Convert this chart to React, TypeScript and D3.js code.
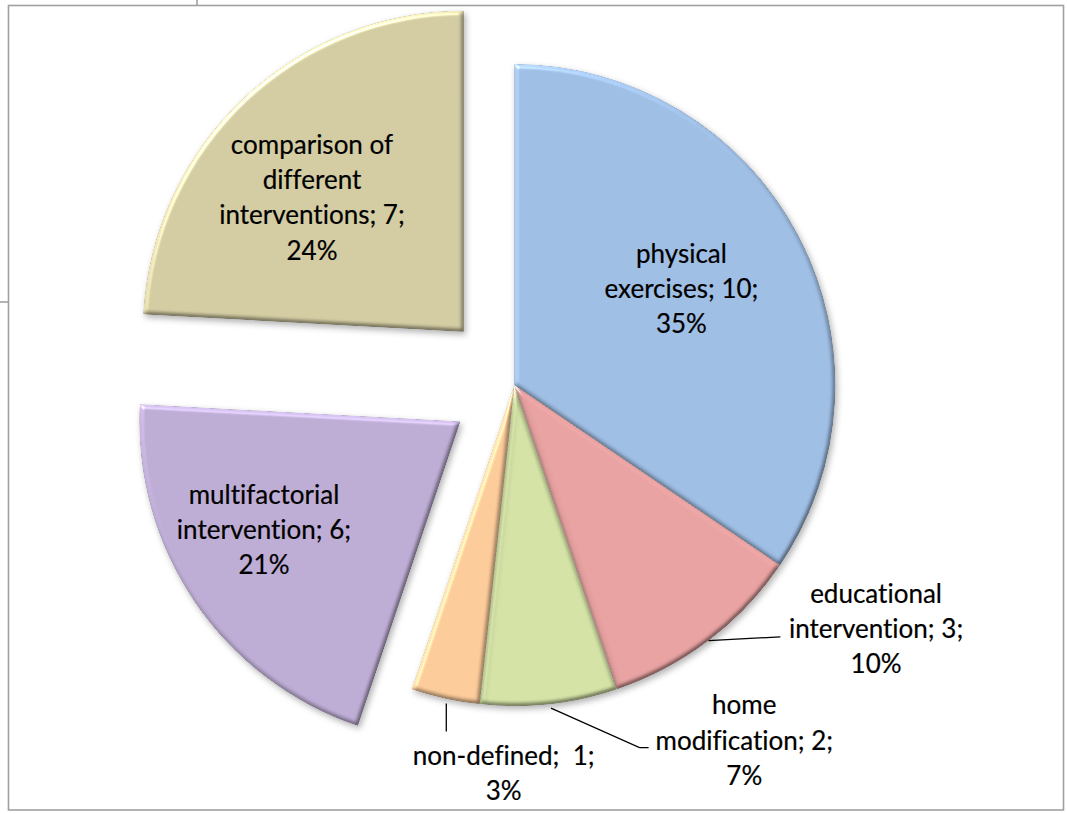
import React from "react";
import * as d3 from "d3";

// ---- data ----
const categories = [
  "physical exercises",
  "educational intervention",
  "home modification",
  "non-defined",
  "multifactorial intervention",
  "comparison of different interventions",
];
const counts = [10, 3, 2, 1, 6, 7];
const percents = ["35%", "10%", "7%", "3%", "21%", "24%"];
// how each data label is wrapped into lines (name/value part; percent appended)
const labelLines = [
  ["physical", "exercises; 10;"],
  ["educational", "intervention; 3;"],
  ["home", "modification; 2;"],
  ["non-defined;  1;"],
  ["multifactorial", "intervention; 6;"],
  ["comparison of", "different", "interventions; 7;"],
];

// ---- styling / layout ----
const colors = ["#9EBDE3", "#E6A1A0", "#D3E1A5", "#FBCA99", "#BCABD3", "#D2CBA2"];
const explode = [0, 0, 0, 0, 0.203, 0.229];
const W = 1067;
const H = 814;
const CX = 514.3;
const CY = 385;
const R = 321;
const LH = 35.3;
const FONT = "Lato, 'Open Sans', sans-serif";
const FS = 26;

type InsideCfg = { kind: "in"; k: number; dx: number; dy: number };
type OutsideCfg = { kind: "out"; tx: number; ty: number; leader: [number, number][] };
const labelCfg: (InsideCfg | OutsideCfg)[] = [
  { kind: "in", k: 0.6, dx: -3, dy: -5 },
  { kind: "out", tx: 167.5, ty: -37.7, leader: [[0, 0], [71.8, -3.7]] },
  { kind: "out", tx: 195.3, ty: 10.2, leader: [[2, 4], [90.5, 43.6], [99.6, 43.6]] },
  { kind: "out", tx: 58.4, ty: 66.4, leader: [[1, 5], [1, 33]] },
  { kind: "in", k: 0.7, dx: -10.4, dy: -16.7 },
  { kind: "in", k: 0.63, dx: -12.7, dy: 14 },
];

export default function App() {
  const pie = d3
    .pie<number>()
    .sort(null)
    .value((d) => d)
    .startAngle(0)
    .endAngle(2 * Math.PI);
  const arcs = pie(counts);
  const arc = d3.arc<d3.PieArcDatum<number>>().innerRadius(0).outerRadius(R);
  const edgeArc = d3.arc<d3.PieArcDatum<number>>().innerRadius(R).outerRadius(R);

  const polar = (a: number, rr: number): [number, number] => [rr * Math.sin(a), -rr * Math.cos(a)];

  const slices = arcs.map((a, i) => {
    const mid = (a.startAngle + a.endAngle) / 2;
    const [ox, oy] = polar(mid, explode[i] * R);
    return { a, i, mid, ox, oy };
  });

  const textProps = {
    fontFamily: FONT,
    fontSize: FS,
    fill: "#000",
    stroke: "#000",
    strokeWidth: 0.2,
    style: { fontVariantLigatures: "none" as const, whiteSpace: "pre" as const },
  };

  return (
    <div style={{ position: "absolute", left: 0, top: 0 }}>
      <svg width={W} height={H} style={{ display: "block", background: "#fff" }}>
        <defs>
          <filter id="bevel" x="-15%" y="-15%" width="130%" height="130%" colorInterpolationFilters="sRGB">
            <feGaussianBlur in="SourceAlpha" stdDeviation="2.2" result="blur" />
            <feDiffuseLighting in="blur" surfaceScale="3" diffuseConstant="1" lightingColor="#ffffff" result="diff">
              <feDistantLight azimuth="235" elevation="40" />
            </feDiffuseLighting>
            <feComposite in="SourceGraphic" in2="diff" operator="arithmetic" k1="0.62" k2="0.6" k3="0" k4="0" result="shaded" />
            <feSpecularLighting in="blur" surfaceScale="3" specularConstant="0.45" specularExponent="40" lightingColor="#ffffff" result="spec">
              <feDistantLight azimuth="235" elevation="40" />
            </feSpecularLighting>
            <feComposite in="spec" in2="SourceAlpha" operator="in" result="specIn" />
            <feComposite in="shaded" in2="specIn" operator="arithmetic" k1="0" k2="1" k3="0.8" k4="0" result="lit" />
            <feComposite in="lit" in2="SourceAlpha" operator="in" result="litIn" />
            <feGaussianBlur in="SourceAlpha" stdDeviation="3" result="sb" />
            <feOffset in="sb" dx="2" dy="3" result="so" />
            <feFlood floodColor="#000" floodOpacity="0.3" result="sc" />
            <feComposite in="sc" in2="so" operator="in" result="shadow" />
            <feMerge>
              <feMergeNode in="shadow" />
              <feMergeNode in="litIn" />
            </feMerge>
          </filter>
        </defs>

        {/* frame and spreadsheet remnants */}
        <line x1={197} y1={0} x2={197} y2={5} stroke="#9a9a9a" strokeWidth={1.5} />
        <line x1={0} y1={302} x2={8} y2={302} stroke="#9a9a9a" strokeWidth={1.5} />
        <rect x={8.5} y={5.5} width={1055} height={804.5} fill="none" stroke="#a0a0a0" strokeWidth={1.6} />

        <g transform={`translate(${CX},${CY})`}>
          {slices.map(({ a, i, ox, oy }) => (
            <path
              key={categories[i]}
              d={arc(a) as string}
              transform={`translate(${ox},${oy})`}
              fill={colors[i]}
              filter="url(#bevel)"
            />
          ))}

          {slices.map(({ a, i, mid, ox, oy }) => {
            const cfg = labelCfg[i];
            const txt = labelLines[i].concat([percents[i]]);
            if (cfg.kind === "in") {
              const [px, py] = polar(mid, cfg.k * R);
              const lx = ox + px + cfg.dx;
              const ly = oy + py + cfg.dy;
              const n = txt.length;
              return (
                <text key={"l" + i} textAnchor="middle" {...textProps}>
                  {txt.map((t, j) => (
                    <tspan key={j} x={lx} y={ly + (j - (n - 1) / 2) * LH + 8}>
                      {t}
                    </tspan>
                  ))}
                </text>
              );
            }
            const [ex, ey] = edgeArc.centroid(a);
            const pts = cfg.leader.map(([dx, dy]) => [ex + dx, ey + dy] as [number, number]);
            return (
              <g key={"l" + i}>
                <path d={d3.line()(pts) as string} fill="none" stroke="#000" strokeWidth={1.3} />
                <text textAnchor="middle" {...textProps}>
                  {txt.map((t, j) => (
                    <tspan key={j} x={ex + cfg.tx} y={ey + cfg.ty + j * LH}>
                      {t}
                    </tspan>
                  ))}
                </text>
              </g>
            );
          })}
        </g>
      </svg>
    </div>
  );
}
